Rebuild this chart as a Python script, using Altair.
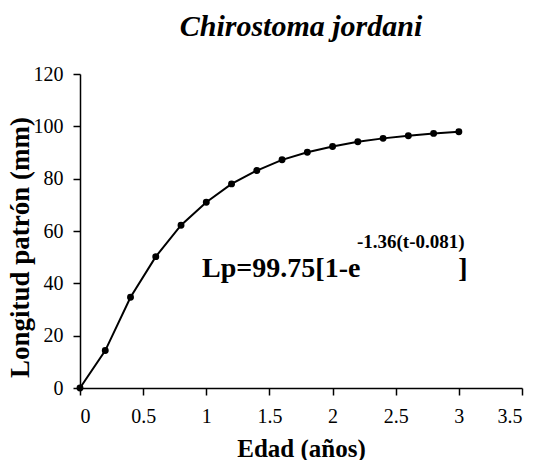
import altair as alt
import pandas as pd

# Standard length at age for Chirostoma jordani
edad = [0, 0.2, 0.4, 0.6, 0.8, 1.0, 1.2, 1.4, 1.6, 1.8, 2.0, 2.2, 2.4, 2.6, 2.8, 3.0]
longitud = [0, 14.3, 34.7, 50.2, 62.2, 71.0, 78.0, 83.1, 87.2, 90.1, 92.3, 94.1, 95.4, 96.4, 97.3, 97.9]

x_ticks = [0, 0.5, 1, 1.5, 2, 2.5, 3, 3.5]
y_ticks = [0, 20, 40, 60, 80, 100, 120]

# Growth equation, drawn as base text + superscript + closing bracket
eq_base = "Lp=99.75[1-e"
eq_sup = "-1.36(t-0.081)"
eq_end = "]"

FONT = "Times New Roman, Liberation Serif, DejaVu Serif, serif"

df = pd.DataFrame({"edad": edad, "longitud": longitud})

x_enc = alt.X(
    "edad:Q",
    scale=alt.Scale(domain=[0, 3.5], nice=False, zero=False),
    axis=alt.Axis(
        values=x_ticks,
        format="~g",
        title="Edad (años)",
        titleFont=FONT,
        titleFontSize=25,
        titleFontWeight="bold",
        titleColor="black",
        titleBaseline="alphabetic",
        titleY=68,
        labelBaseline="alphabetic",
        labelPadding=27,
    ),
)
y_enc = alt.Y(
    "longitud:Q",
    scale=alt.Scale(domain=[0, 120], nice=False),
    axis=alt.Axis(
        values=y_ticks,
        title="Longitud patrón (mm)",
        titleFont=FONT,
        titleFontSize=27,
        titleFontWeight="bold",
        titleColor="black",
        titleBaseline="middle",
        titleAlign="center",
        titleX=-60,
        titleY=173,
        labelPadding=10,
    ),
)

line = alt.Chart(df).mark_line(color="black", strokeWidth=2).encode(x=x_enc, y=y_enc)
points = alt.Chart(df).mark_point(filled=True, color="black", size=48, opacity=1).encode(
    x="edad:Q", y="longitud:Q"
)

ann = pd.DataFrame(
    {
        "edad": [0.967, 2.193, 2.995],
        "longitud": [42.4, 53.4, 42.4],
        "txt": [eq_base, eq_sup, eq_end],
        "size": [28, 19, 28],
    }
)
equation = alt.Chart(ann).mark_text(
    font=FONT, fontWeight="bold", align="left", baseline="alphabetic", color="black"
).encode(
    x="edad:Q",
    y="longitud:Q",
    text="txt:N",
    size=alt.Size("size:Q", scale=None, legend=None),
)

chart = (
    alt.layer(line, points, equation)
    .properties(
        width=442,
        height=314,
        background="white",
        autosize=alt.AutoSizeParams(type="none"),
        padding={"left": 80, "top": 74, "right": 16, "bottom": 72},
        title=alt.TitleParams(
            "Chirostoma jordani",
            font=FONT,
            fontSize=30,
            fontStyle="italic",
            fontWeight="bold",
            color="black",
            anchor="middle",
            baseline="alphabetic",
            offset=2,
            dy=4,
        ),
    )
    .configure_view(stroke=None)
    .configure_axis(
        grid=False,
        domainColor="black",
        domainWidth=1.5,
        tickColor="black",
        tickWidth=1.5,
        tickSize=7,
        labelFont=FONT,
        labelFontSize=20,
        labelColor="black",
    )
)

chart.save("out.html", embed_options={"renderer": "svg", "actions": False})
